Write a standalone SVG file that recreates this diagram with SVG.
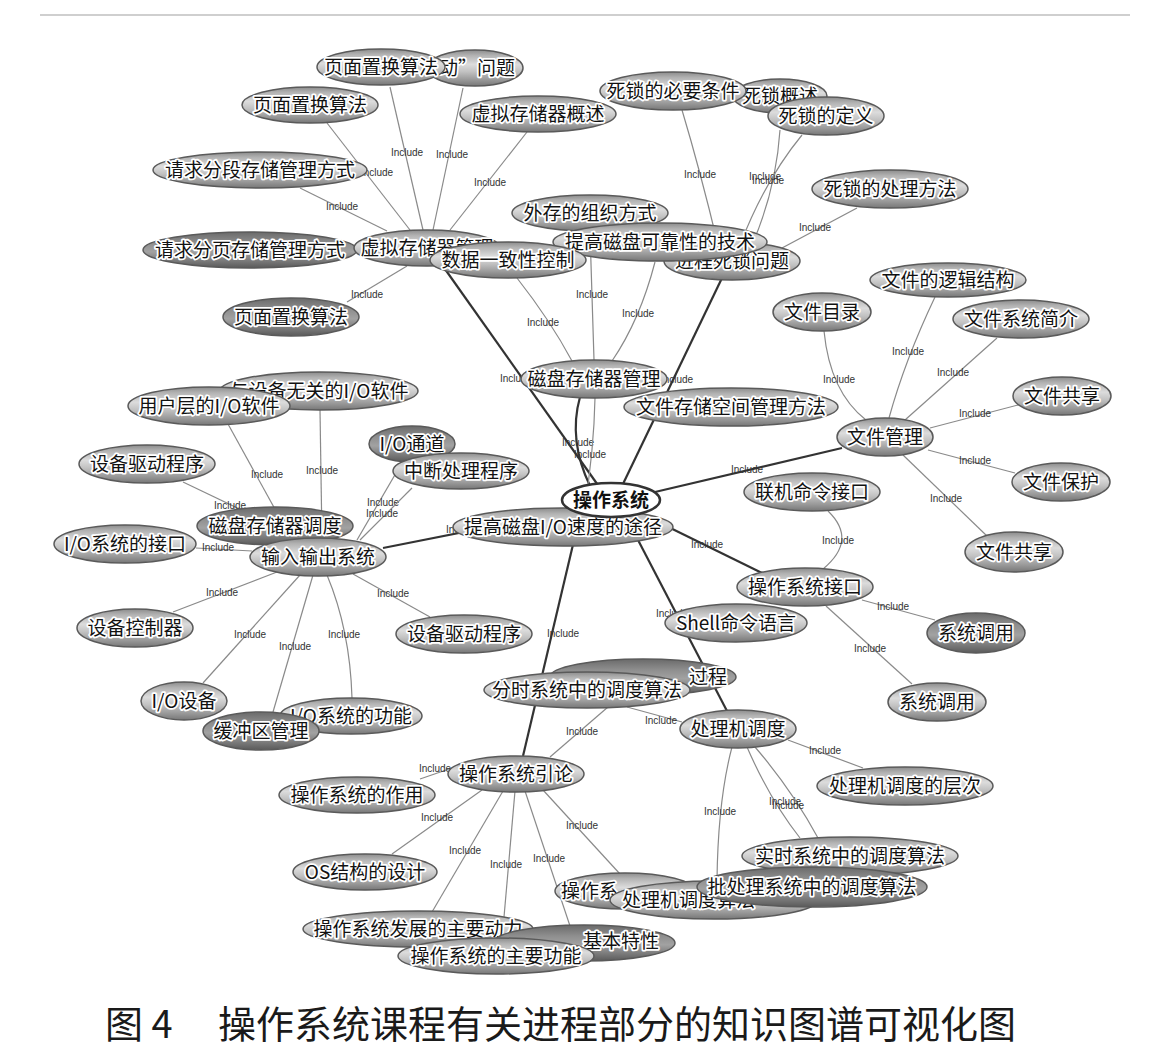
<svg xmlns="http://www.w3.org/2000/svg" width="1169" height="1050" viewBox="0 0 1169 1050">
<defs>
<linearGradient id="g" x1="0" y1="0" x2="0" y2="1">
<stop offset="0" stop-color="#8c8c8c"/>
<stop offset="0.15" stop-color="#b2b2b2"/>
<stop offset="0.4" stop-color="#dcdcdc"/>
<stop offset="0.6" stop-color="#c2c2c2"/>
<stop offset="0.82" stop-color="#9a9a9a"/>
<stop offset="1" stop-color="#777"/>
</linearGradient>
<linearGradient id="gd" x1="0" y1="0" x2="0" y2="1">
<stop offset="0" stop-color="#6a6a6a"/>
<stop offset="0.3" stop-color="#8e8e8e"/>
<stop offset="0.55" stop-color="#a2a2a2"/>
<stop offset="1" stop-color="#5a5a5a"/>
</linearGradient>
<style>
.node ellipse{fill:url(#g);stroke:#5a5a5a;stroke-width:1.5}
.node.dk ellipse{fill:url(#gd)}
.node text{font-family:"Noto Sans CJK SC","Noto Sans",sans-serif;font-size:19px;fill:#111;stroke:#fff;stroke-width:3.5px;paint-order:stroke;stroke-linejoin:round;text-anchor:middle}
#n-root ellipse{fill:#fff;stroke:#333;stroke-width:2.5}
#n-root text{font-weight:bold;stroke:none}
.e{fill:none;stroke:#8a8a8a;stroke-width:1.2}
.r{fill:none;stroke:#333;stroke-width:2.2}
.lb{font-family:"Liberation Sans",Arial,sans-serif;font-size:10px;fill:#333;text-anchor:middle}
.cap{font-family:"Noto Sans CJK SC","Noto Sans",sans-serif;font-size:38px;fill:#1a1a1a}
</style>
</defs>
<rect width="1169" height="1050" fill="#fff"/>
<line x1="40" y1="15" x2="1130" y2="15" stroke="#cfcfcf" stroke-width="2"/>

<g id="edges">
<!-- root edges -->
<path class="r" d="M600 488 L440 262"/><text class="lb" x="516" y="382">Include</text>
<path class="r" d="M622 486 L722 278"/><text class="lb" x="677" y="383">Include</text>
<path class="r" d="M590 486 Q568 440 580 397"/><text class="lb" x="578" y="446">Include</text>
<path class="e" d="M595 398 Q594 450 584 512"/><text class="lb" x="590" y="458">Include</text>
<path class="r" d="M655 492 L842 448"/><text class="lb" x="747" y="473">Include</text>
<path class="r" d="M650 518 L762 573"/><text class="lb" x="707" y="548">Include</text>
<path class="r" d="M600 505 L383 548"/><text class="lb" x="462" y="533">Include</text>
<path class="r" d="M580 515 L523 756"/><text class="lb" x="563" y="637">Include</text>
<path class="r" d="M625 515 L727 711"/><text class="lb" x="672" y="617">Include</text>
<!-- virtual memory -->
<path class="e" d="M423 230 L390 87"/><text class="lb" x="407" y="156">Include</text>
<path class="e" d="M433 230 L463 88"/><text class="lb" x="452" y="158">Include</text>
<path class="e" d="M410 230 L327 123"/><text class="lb" x="377" y="176">Include</text>
<path class="e" d="M450 230 L527 132"/><text class="lb" x="490" y="186">Include</text>
<path class="e" d="M387 231 L300 188"/><text class="lb" x="342" y="210">Include</text>
<path class="e" d="M407 266 L347 302"/><text class="lb" x="367" y="298">Include</text>
<!-- disk -->
<path class="e" d="M517 278 Q550 320 572 361"/><text class="lb" x="543" y="326">Include</text>
<path class="e" d="M590 232 L594 360"/><text class="lb" x="592" y="298">Include</text>
<path class="e" d="M655 262 Q640 320 612 361"/><text class="lb" x="638" y="317">Include</text>
<!-- deadlock -->
<path class="e" d="M682 110 Q700 170 718 245"/><text class="lb" x="700" y="178">Include</text>
<path class="e" d="M780 130 Q776 190 752 245"/><text class="lb" x="765" y="180">Include</text>
<path class="e" d="M802 135 Q765 180 740 245"/><text class="lb" x="768" y="184">Include</text>
<path class="e" d="M857 208 L782 248"/><text class="lb" x="815" y="231">Include</text>
<!-- file -->
<path class="e" d="M824 331 Q830 392 866 420"/><text class="lb" x="839" y="383">Include</text>
<path class="e" d="M935 297 Q905 360 889 418"/><text class="lb" x="908" y="355">Include</text>
<path class="e" d="M997 338 L905 420"/><text class="lb" x="953" y="376">Include</text>
<path class="e" d="M1018 405 L930 428"/><text class="lb" x="975" y="417">Include</text>
<path class="e" d="M1015 473 L928 450"/><text class="lb" x="975" y="464">Include</text>
<path class="e" d="M987 536 L903 455"/><text class="lb" x="946" y="502">Include</text>
<!-- interface -->
<path class="e" d="M828 511 Q858 540 823 569"/><text class="lb" x="838" y="544">Include</text>
<path class="e" d="M862 600 L935 620"/><text class="lb" x="893" y="610">Include</text>
<path class="e" d="M826 606 L912 684"/><text class="lb" x="870" y="652">Include</text>
<!-- io -->
<path class="e" d="M228 424 L292 540"/><text class="lb" x="267" y="478">Include</text>
<path class="e" d="M320 410 L322 540"/><text class="lb" x="322" y="474">Include</text>
<path class="e" d="M183 482 L252 515"/><text class="lb" x="230" y="509">Include</text>
<path class="e" d="M196 548 L252 551"/><text class="lb" x="218" y="551">Include</text>
<path class="e" d="M403 461 L357 540"/><text class="lb" x="383" y="506">Include</text>
<path class="e" d="M412 488 L360 540"/><text class="lb" x="382" y="517">Include</text>
<path class="e" d="M173 612 L277 572"/><text class="lb" x="222" y="596">Include</text>
<path class="e" d="M353 574 L430 617"/><text class="lb" x="393" y="597">Include</text>
<path class="e" d="M300 575 L203 683"/><text class="lb" x="250" y="638">Include</text>
<path class="e" d="M313 575 L273 712"/><text class="lb" x="295" y="650">Include</text>
<path class="e" d="M327 575 Q350 630 352 698"/><text class="lb" x="344" y="638">Include</text>
<!-- processor -->
<path class="e" d="M608 707 L550 757"/><text class="lb" x="582" y="735">Include</text>
<path class="e" d="M627 707 L682 722"/><text class="lb" x="661" y="724">Include</text>
<path class="e" d="M788 740 L863 768"/><text class="lb" x="825" y="754">Include</text>
<path class="e" d="M747 747 Q770 800 800 838"/><text class="lb" x="785" y="805">Include</text>
<path class="e" d="M755 747 Q792 790 818 838"/><text class="lb" x="788" y="809">Include</text>
<path class="e" d="M732 747 Q718 800 717 880"/><text class="lb" x="720" y="815">Include</text>
<!-- intro -->
<path class="e" d="M452 768 L420 779"/><text class="lb" x="435" y="772">Include</text>
<path class="e" d="M482 790 L392 854"/><text class="lb" x="437" y="821">Include</text>
<path class="e" d="M503 791 L432 912"/><text class="lb" x="465" y="854">Include</text>
<path class="e" d="M515 791 L502 940"/><text class="lb" x="506" y="868">Include</text>
<path class="e" d="M525 791 L570 926"/><text class="lb" x="549" y="862">Include</text>
<path class="e" d="M543 790 L620 874"/><text class="lb" x="582" y="829">Include</text>
</g>

<g id="n-vm-thrash" class="node"><ellipse cx="475" cy="68" rx="48" ry="18"/><text x="515" y="75" style="text-anchor:end">动”问题</text></g>
<g id="n-vm-page1" class="node"><ellipse cx="381" cy="67" rx="64" ry="18"/><text x="381" y="74">页面置换算法</text></g>
<g id="n-vm-page2" class="node"><ellipse cx="310" cy="105" rx="68" ry="18"/><text x="310" y="112">页面置换算法</text></g>
<g id="n-vm-overview" class="node"><ellipse cx="538" cy="114" rx="78" ry="18"/><text x="538" y="121">虚拟存储器概述</text></g>
<g id="n-vm-seg" class="node"><ellipse cx="260" cy="170" rx="107" ry="18"/><text x="260" y="177">请求分段存储管理方式</text></g>
<g id="n-vm-pagereq" class="node dk"><ellipse cx="250" cy="250" rx="107" ry="18"/><text x="250" y="257">请求分页存储管理方式</text></g>
<g id="n-vm" class="node"><ellipse cx="427" cy="248" rx="73" ry="18"/><text x="427" y="255">虚拟存储器管理</text></g>
<g id="n-vm-page3" class="node dk"><ellipse cx="291" cy="317" rx="68" ry="19"/><text x="291" y="324">页面置换算法</text></g>

<g id="n-dl-overview" class="node"><ellipse cx="780" cy="96" rx="47" ry="17"/><text x="780" y="103">死锁概述</text></g>
<g id="n-dl-cond" class="node"><ellipse cx="673" cy="91" rx="73" ry="19"/><text x="673" y="98">死锁的必要条件</text></g>
<g id="n-dl-def" class="node"><ellipse cx="826" cy="116" rx="58" ry="19"/><text x="826" y="123">死锁的定义</text></g>
<g id="n-dl-handle" class="node"><ellipse cx="890" cy="189" rx="78" ry="19"/><text x="890" y="196">死锁的处理方法</text></g>

<g id="n-disk-org" class="node"><ellipse cx="590" cy="213" rx="78" ry="18"/><text x="590" y="220">外存的组织方式</text></g>
<g id="n-dl" class="node"><ellipse cx="732" cy="261" rx="68" ry="19"/><text x="732" y="268">进程死锁问题</text></g>
<g id="n-disk-rel" class="node"><ellipse cx="660" cy="242" rx="107" ry="19"/><text x="660" y="249">提高磁盘可靠性的技术</text></g>
<g id="n-disk-consist" class="node"><ellipse cx="508" cy="260" rx="78" ry="18"/><text x="508" y="267">数据一致性控制</text></g>

<g id="n-f-logic" class="node"><ellipse cx="948" cy="280" rx="78" ry="17"/><text x="948" y="287">文件的逻辑结构</text></g>
<g id="n-f-dir" class="node"><ellipse cx="822" cy="312" rx="49" ry="19"/><text x="822" y="319">文件目录</text></g>
<g id="n-f-intro" class="node"><ellipse cx="1021" cy="319" rx="68" ry="19"/><text x="1021" y="326">文件系统简介</text></g>
<g id="n-f-share1" class="node"><ellipse cx="1062" cy="396" rx="49" ry="19"/><text x="1062" y="403">文件共享</text></g>
<g id="n-f" class="node"><ellipse cx="885" cy="437" rx="48" ry="19"/><text x="885" y="444">文件管理</text></g>
<g id="n-f-protect" class="node"><ellipse cx="1061" cy="482" rx="49" ry="19"/><text x="1061" y="489">文件保护</text></g>
<g id="n-f-share2" class="node"><ellipse cx="1014" cy="552" rx="49" ry="20"/><text x="1014" y="559">文件共享</text></g>

<g id="n-disk" class="node"><ellipse cx="594" cy="379" rx="73" ry="19"/><text x="594" y="386">磁盘存储器管理</text></g>
<g id="n-disk-space" class="node"><ellipse cx="731" cy="407" rx="107" ry="19"/><text x="731" y="414">文件存储空间管理方法</text></g>

<g id="n-if-online" class="node"><ellipse cx="812" cy="492" rx="68" ry="19"/><text x="812" y="499">联机命令接口</text></g>
<g id="n-if" class="node"><ellipse cx="805" cy="587" rx="68" ry="19"/><text x="805" y="594">操作系统接口</text></g>
<g id="n-if-shell" class="node"><ellipse cx="736" cy="623" rx="71" ry="19"/><text x="736" y="630">Shell命令语言</text></g>
<g id="n-if-call1" class="node dk"><ellipse cx="976" cy="633" rx="49" ry="20"/><text x="976" y="640">系统调用</text></g>
<g id="n-if-call2" class="node"><ellipse cx="937" cy="702" rx="49" ry="19"/><text x="937" y="709">系统调用</text></g>

<g id="n-io-indep" class="node"><ellipse cx="319" cy="391" rx="99" ry="19"/><text x="319" y="398">与设备无关的I/O软件</text></g>
<g id="n-io-user" class="node"><ellipse cx="209" cy="406" rx="81" ry="19"/><text x="209" y="413">用户层的I/O软件</text></g>
<g id="n-io-drv1" class="node"><ellipse cx="147" cy="464" rx="68" ry="19"/><text x="147" y="471">设备驱动程序</text></g>
<g id="n-io-chan" class="node dk"><ellipse cx="412" cy="444" rx="43" ry="18"/><text x="412" y="451">I/O通道</text></g>
<g id="n-io-intr" class="node"><ellipse cx="461" cy="471" rx="68" ry="18"/><text x="461" y="478">中断处理程序</text></g>
<g id="n-io-sched" class="node dk"><ellipse cx="275" cy="526" rx="78" ry="19"/><text x="275" y="533">磁盘存储器调度</text></g>
<g id="n-io-if" class="node"><ellipse cx="125" cy="544" rx="71" ry="19"/><text x="125" y="551">I/O系统的接口</text></g>
<g id="n-io" class="node"><ellipse cx="318" cy="557" rx="68" ry="19"/><text x="318" y="564">输入输出系统</text></g>
<g id="n-io-ctrl" class="node"><ellipse cx="135" cy="628" rx="58" ry="19"/><text x="135" y="635">设备控制器</text></g>
<g id="n-io-drv2" class="node"><ellipse cx="464" cy="634" rx="68" ry="19"/><text x="464" y="641">设备驱动程序</text></g>
<g id="n-io-dev" class="node"><ellipse cx="184" cy="701" rx="43" ry="19"/><text x="184" y="708">I/O设备</text></g>
<g id="n-io-func" class="node"><ellipse cx="351" cy="716" rx="71" ry="18"/><text x="351" y="723">I/O系统的功能</text></g>
<g id="n-io-buf" class="node dk"><ellipse cx="261" cy="731" rx="58" ry="19"/><text x="261" y="738">缓冲区管理</text></g>

<g id="n-p-proc" class="node dk"><ellipse cx="643" cy="677" rx="93" ry="18"/><text x="708" y="684">过程</text></g>
<g id="n-p-ts" class="node"><ellipse cx="587" cy="690" rx="103" ry="18"/><text x="587" y="697">分时系统中的调度算法</text></g>
<g id="n-p" class="node"><ellipse cx="738" cy="729" rx="58" ry="19"/><text x="738" y="736">处理机调度</text></g>
<g id="n-p-level" class="node"><ellipse cx="905" cy="786" rx="88" ry="19"/><text x="905" y="793">处理机调度的层次</text></g>
<g id="n-p-rt" class="node"><ellipse cx="850" cy="856" rx="108" ry="19"/><text x="850" y="863">实时系统中的调度算法</text></g>
<g id="n-intro-x" class="node"><ellipse cx="625" cy="891" rx="70" ry="18"/><text x="561" y="898" style="text-anchor:start">操作系</text></g>
<g id="n-p-alg" class="node"><ellipse cx="714" cy="900" rx="104" ry="19"/><text x="622" y="907" style="text-anchor:start">处理机调度算法</text></g>
<g id="n-p-batch" class="node dk"><ellipse cx="812" cy="887" rx="115" ry="20"/><text x="812" y="894">批处理系统中的调度算法</text></g>

<g id="n-intro" class="node"><ellipse cx="516" cy="774" rx="68" ry="18"/><text x="516" y="781">操作系统引论</text></g>
<g id="n-intro-role" class="node"><ellipse cx="357" cy="795" rx="78" ry="18"/><text x="357" y="802">操作系统的作用</text></g>
<g id="n-intro-os" class="node"><ellipse cx="365" cy="872" rx="72" ry="18"/><text x="365" y="879">OS结构的设计</text></g>
<g id="n-intro-drive" class="node"><ellipse cx="418" cy="929" rx="115" ry="18"/><text x="418" y="936">操作系统发展的主要动力</text></g>
<g id="n-intro-feat" class="node dk"><ellipse cx="584" cy="943" rx="91" ry="18"/><text x="621" y="948">基本特性</text></g>
<g id="n-intro-func" class="node"><ellipse cx="496" cy="956" rx="98" ry="18"/><text x="496" y="963">操作系统的主要功能</text></g>

<g id="n-disk-io" class="node"><ellipse cx="563" cy="527" rx="110" ry="19"/><text x="563" y="534">提高磁盘I/O速度的途径</text></g>
<g id="n-root" class="node"><ellipse cx="611" cy="500" rx="49" ry="17"/><text x="611" y="507">操作系统</text></g>

<g id="caption"><text class="cap" y="1038"><tspan x="105">图 4</tspan><tspan x="218">操作系统课程有关进程部分的知识图谱可视化图</tspan></text></g>
</svg>
